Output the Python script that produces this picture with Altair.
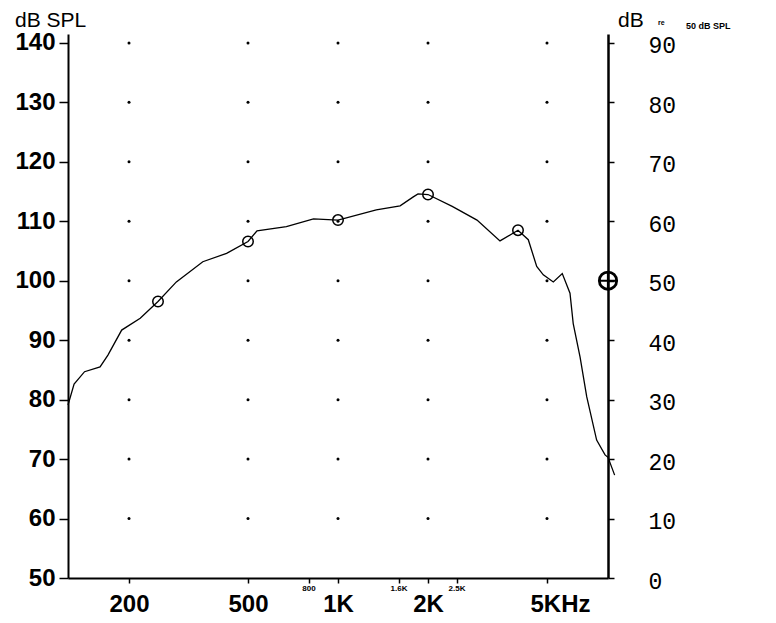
import altair as alt
import pandas as pd

# ---- data ----
curve_freq = [125, 131, 142, 160, 170, 189, 218, 250, 288, 353, 424, 500, 536, 672, 828,
              1000, 1343, 1613, 1786, 1852, 2000, 2410, 2917, 3482, 4000, 4330, 4620, 4860,
              5250, 5625, 5970, 6120, 6450, 6790, 7330, 7820, 8000, 8420]
curve_db = [79.1, 82.6, 84.7, 85.5, 87.5, 91.7, 93.7, 96.5, 99.8, 103.2, 104.6, 106.6, 108.4,
            109.1, 110.4, 110.2, 111.9, 112.6, 114.1, 114.6, 114.5, 112.5, 110.2, 106.7, 108.5,
            106.9, 102.4, 101.0, 99.8, 101.2, 97.9, 92.8, 87.2, 80.5, 73.2, 70.7, 70.3, 67.3]

marker_freq = [250, 500, 1000, 2000, 4000]
marker_db = [96.5, 106.6, 110.2, 114.5, 108.5]

ref_freq = [8000]
ref_db = [100]

grid_freq = [200, 500, 1000, 2000, 5000]
grid_db = [60, 70, 80, 90, 100, 110, 120, 130, 140]

major_freq = [200, 500, 1000, 2000, 5000]
major_labels = ["200", "500", "1K", "2K", "5KHz"]
minor_freq = [800, 1600, 2500]
minor_labels = ["800", "1.6K", "2.5K"]

left_ticks = [50, 60, 70, 80, 90, 100, 110, 120, 130, 140]
right_offset = 50  # right axis: dB re 50 dB SPL

# ---- tables ----
curve_df = pd.DataFrame({"f": curve_freq, "db": curve_db})
marker_df = pd.DataFrame({"f": marker_freq, "db": marker_db})
ref_df = pd.DataFrame({"f": ref_freq, "db": ref_db})
grid_df = pd.DataFrame([{"f": f, "db": d} for f in grid_freq for d in grid_db])
minor_df = pd.DataFrame({"f": minor_freq, "lab": minor_labels})

xs = alt.Scale(type="log", domain=[125, 8000], nice=False)
ys = alt.Scale(domain=[50, 141.5], nice=False, zero=False)

label_expr = "".join(
    f"datum.value == {f} ? '{l}' : " for f, l in zip(major_freq, major_labels)
) + "''"

x_axis = alt.Axis(
    values=major_freq + minor_freq, labelExpr=label_expr, title=None, grid=False,
    labelOverlap=False, labelFlush=False,
    labelFont="Liberation Sans", labelFontWeight="bold", labelFontSize=24, labelColor="black",
    labelPadding=9,
    labelOffset={"condition": {"test": "datum.value == 5000", "value": 13}, "value": 0},
    tickSize=5, tickWidth=1.5, tickColor="black", domainColor="black", domainWidth=2,
)
left_axis = alt.Axis(
    values=left_ticks, title=None, grid=False, labelOverlap=False, labelFlush=False,
    labelFont="Liberation Sans", labelFontWeight="bold", labelFontSize=24, labelColor="black",
    labelPadding=4, tickSize=9, tickWidth=1.5, tickColor="black",
    domainColor="black", domainWidth=2,
)
right_axis = alt.Axis(
    orient="right", values=left_ticks, title=None, grid=False, labelOverlap=False,
    labelFlush=False, labelExpr=f"'' + (datum.value - {right_offset})",
    labelFont="Liberation Mono", labelFontSize=23, labelColor="black",
    labelPadding=34, labelOffset=3, tickSize=6, tickWidth=1.5, tickColor="black",
    domainColor="black", domainWidth=2.5,
)

X = alt.X("f:Q", scale=xs, axis=x_axis)

dots = alt.Chart(grid_df).mark_circle(size=9, color="black", opacity=1).encode(
    x=X,
    y=alt.Y("db:Q", scale=ys, axis=left_axis),
)

line = alt.Chart(curve_df).mark_line(color="black", strokeWidth=1.3).encode(
    x=X,
    y=alt.Y("db:Q", scale=ys, axis=right_axis),
    order="f:Q",
)

markers = alt.Chart(marker_df).mark_point(
    shape="circle", filled=False, size=110, strokeWidth=1.5, color="black", opacity=1
).encode(
    x=X,
    y=alt.Y("db:Q", scale=ys, axis=None),
)

ref_circle = alt.Chart(ref_df).mark_point(
    shape="circle", filled=False, size=300, strokeWidth=2.8, color="black", opacity=1
).encode(
    x=X,
    y=alt.Y("db:Q", scale=ys, axis=None),
)
ref_cross = alt.Chart(ref_df).mark_point(
    shape="M -1 0 L 1 0 M 0 -1 L 0 1", filled=False, size=300, strokeWidth=2.2,
    color="black", opacity=1
).encode(
    x=X,
    y=alt.Y("db:Q", scale=ys, axis=None),
)

minor_text = alt.Chart(minor_df).mark_text(
    font="Liberation Sans", fontWeight="bold", fontSize=8, color="black", baseline="middle"
).encode(
    x=X,
    y=alt.value(555),
    text="lab:N",
)

title_left = alt.Chart(pd.DataFrame({"t": ["dB SPL"]})).mark_text(
    font="Liberation Sans", fontSize=21, color="black", align="left", baseline="alphabetic"
).encode(x=alt.value(-53), y=alt.value(-7), text="t:N")

title_right = alt.Chart(pd.DataFrame({"t": ["dB"]})).mark_text(
    font="Liberation Sans", fontSize=21, color="black", align="left", baseline="alphabetic"
).encode(x=alt.value(550), y=alt.value(-7), text="t:N")

title_re = alt.Chart(pd.DataFrame({"t": ["re"]})).mark_text(
    font="Liberation Sans", fontWeight="bold", fontSize=7, color="black", align="left",
    baseline="alphabetic"
).encode(x=alt.value(590), y=alt.value(-9), text="t:N")

title_ref = alt.Chart(pd.DataFrame({"t": ["50 dB SPL"]})).mark_text(
    font="Liberation Sans", fontWeight="bold", fontSize=9, color="black", align="left",
    baseline="alphabetic"
).encode(x=alt.value(618), y=alt.value(-5), text="t:N")

chart = alt.layer(
    dots, line, markers, ref_circle, ref_cross, minor_text,
    title_left, title_right, title_re, title_ref
).resolve_axis(y="independent").properties(
    width=540, height=544,
    padding={"left": 60, "top": 26, "right": 150, "bottom": 37},
    autosize=alt.AutoSizeParams(type="none"),
    background="white",
).configure_view(stroke=None)

chart.save("out.html", embed_options={"renderer": "svg", "actions": False})
